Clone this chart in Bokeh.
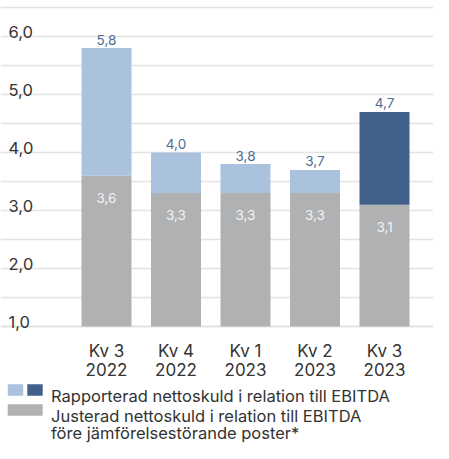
from bokeh.plotting import figure
from bokeh.models import Range1d, Span, ColumnDataSource
from bokeh.core.properties import value
from bokeh.embed import file_html
from bokeh.resources import INLINE

# ---- data ----
quarters = ["Kv 3", "Kv 4", "Kv 1", "Kv 2", "Kv 3"]
years = ["2022", "2022", "2023", "2023", "2023"]
reported = [5.8, 4.0, 3.8, 3.7, 4.7]
adjusted = [3.6, 3.3, 3.3, 3.3, 3.1]
reported_labels = ["5,8", "4,0", "3,8", "3,7", "4,7"]
adjusted_labels = ["3,6", "3,3", "3,3", "3,3", "3,1"]
y_ticks = [1.0, 2.0, 3.0, 4.0, 5.0, 6.0]
y_tick_labels = ["1,0", "2,0", "3,0", "4,0", "5,0", "6,0"]
grid_values = [1.0, 1.5, 2.0, 2.5, 3.0, 3.5, 4.0, 4.5, 5.0, 5.5, 6.0, 6.5]
legend_reported = "Rapporterad nettoskuld i relation till EBITDA"
legend_adjusted = ["Justerad nettoskuld i relation till EBITDA",
                   "före jämförelsestörande poster*"]

# ---- styles ----
LIGHT = "#abc2de"
DARK = "#41618b"
GRAY = "#b0b1b3"
LABEL_BLUE = "#4e6b96"
TEXT = "#333333"
GRID = "#e3e3e3"
FONT = value("Inter")
reported_colors = [LIGHT, LIGHT, LIGHT, LIGHT, DARK]

W, H = 433, 443
PPU_X = 69.5
PPU_Y = 58.0
Y_MIN = 1.0
BASE_PX = 326.0            # pixel row of y = 1.0 from the top of the figure
FIRST_CENTER_PX = 106.0

x_start = -FIRST_CENTER_PX / PPU_X
x_end = x_start + W / PPU_X
y_end = Y_MIN + BASE_PX / PPU_Y
y_start = y_end - H / PPU_Y


def row(px):
    """data y for pixel row px (from the top of the figure)"""
    return y_end - px / PPU_Y


def col(px):
    """data x for pixel column px (from the left of the figure)"""
    return x_start + px / PPU_X


idx = list(range(len(quarters)))

p = figure(width=W, height=H, output_backend="svg", toolbar_location=None,
           x_range=Range1d(x_start, x_end), y_range=Range1d(y_start, y_end),
           x_axis_type=None, y_axis_type=None, min_border=0,
           outline_line_color=None, background_fill_color="white")
p.grid.visible = False

for g in grid_values:
    p.add_layout(Span(location=g, dimension="width", line_color=GRID,
                      line_width=2 if g == Y_MIN else 1.3, level="underlay"))

src = ColumnDataSource(dict(x=idx, rep=reported, adj=adjusted,
                            base=[Y_MIN] * len(idx), col=reported_colors,
                            rl=reported_labels, al=adjusted_labels,
                            q=quarters, yr=years))

p.vbar(x="x", width=50 / PPU_X, bottom="base", top="adj", source=src,
       fill_color=GRAY, line_color=None)
p.vbar(x="x", width=50 / PPU_X, bottom="adj", top="rep", source=src,
       fill_color="col", line_color=None)

p.text(x="x", y="rep", text="rl", source=src, text_align="center",
       text_baseline="alphabetic", y_offset=-8.5, text_font=FONT,
       text_font_size="13.5px", text_color=LABEL_BLUE)
p.text(x="x", y="adj", text="al", source=src, text_align="center",
       text_baseline="alphabetic", y_offset=22, text_font=FONT,
       text_font_size="13.5px", text_color="#f4f4f4")

# category labels
p.text(x="x", y="base", text="q", source=src, text_align="center",
       text_baseline="alphabetic", y_offset=24, text_font=FONT,
       text_font_size="17px", text_color=TEXT)
p.text(x="x", y="base", text="yr", source=src, text_align="center",
       text_baseline="alphabetic", y_offset=43, text_font=FONT,
       text_font_size="17px", text_color=TEXT)

# y tick labels
p.text(x=[col(8.0)] * len(y_ticks), y=y_ticks, text=y_tick_labels,
       text_align="left", text_baseline="alphabetic", y_offset=-4.5,
       text_font=FONT, text_font_size="16.5px", text_color=TEXT)

# legend
p.rect(x=[col(15.0), col(34.5)], y=[row(389.5)] * 2,
       width=15.4, height=11.6, width_units="screen", height_units="screen",
       fill_color=[LIGHT, DARK], line_color=None)
p.rect(x=[col(24.7)], y=[row(409.5)], width=35, height=11.6,
       width_units="screen", height_units="screen", fill_color=GRAY,
       line_color=None)
p.text(x=[col(50.5)], y=[row(395.0)], text=[legend_reported],
       text_align="left", text_baseline="alphabetic", text_font=FONT,
       text_font_size="16.5px", text_color=TEXT)
p.text(x=[col(50.5)] * 2, y=[row(415.0), row(432.0)],
       text=legend_adjusted, text_align="left", text_baseline="alphabetic",
       text_font=FONT, text_font_size="16.5px", text_color=TEXT)

open("out.html", "w").write(file_html(p, INLINE))
